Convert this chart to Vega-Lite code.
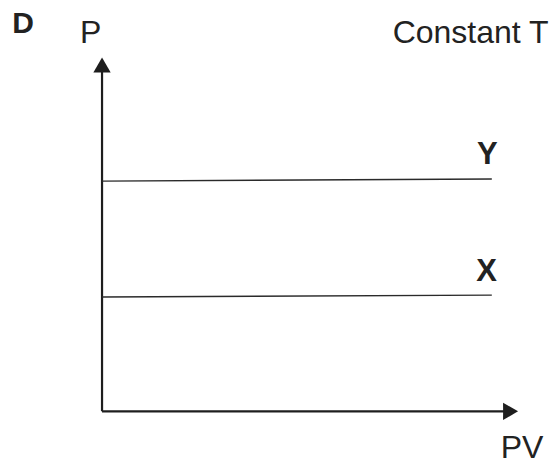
{
  "$schema": "https://vega.github.io/schema/vega-lite/v6.json",
  "width": 551,
  "height": 459,
  "autosize": {"type": "fit", "contains": "padding"},
  "padding": 0,
  "background": "white",
  "config": {"view": {"stroke": null}},
  "datasets": {
    "axes": [
      {"id": "yaxis", "x": 0, "y": 0},
      {"id": "yaxis", "x": 0, "y": 97},
      {"id": "xaxis", "x": 0, "y": 0},
      {"id": "xaxis", "x": 99, "y": 0}
    ],
    "curves": [
      {"id": "Y", "x": 0, "y": 65.2},
      {"id": "Y", "x": 95.5, "y": 65.8},
      {"id": "X", "x": 0, "y": 32.4},
      {"id": "X", "x": 95.5, "y": 32.9}
    ],
    "arrows": [
      {"id": "up", "x": 0, "y": 98.1},
      {"id": "right", "x": 100.1, "y": 0}
    ],
    "labels": [
      {"label": "D", "x": -22.0, "y": 107.1},
      {"label": "P", "x": -2.8, "y": 104.3},
      {"label": "Constant T", "x": 71.2, "y": 104.3},
      {"label": "Y", "x": 94.4, "y": 70.0},
      {"label": "X", "x": 94.2, "y": 36.9},
      {"label": "PV", "x": 102.9, "y": -13.2}
    ]
  },
  "layer": [
    {
      "data": {"name": "axes"},
      "mark": {"type": "line", "color": "#1e1e1e", "strokeWidth": 2.2, "clip": true},
      "encoding": {
        "x": {"field": "x", "type": "quantitative", "scale": {"domain": [-25, 110], "nice": false, "zero": false}, "axis": null},
        "y": {"field": "y", "type": "quantitative", "scale": {"domain": [-13.5, 116.5], "nice": false, "zero": false}, "axis": null},
        "detail": {"field": "id"}
      }
    },
    {
      "data": {"name": "curves"},
      "mark": {"type": "line", "color": "#2a2a2a", "strokeWidth": 1.4, "clip": true},
      "encoding": {
        "x": {"field": "x", "type": "quantitative"},
        "y": {"field": "y", "type": "quantitative"},
        "detail": {"field": "id"}
      }
    },
    {
      "data": {"name": "arrows"},
      "transform": [{"filter": "datum.id === 'up'"}],
      "mark": {"type": "point", "shape": "triangle-up", "filled": true, "color": "#1e1e1e", "size": 300, "opacity": 1, "clip": true},
      "encoding": {
        "x": {"field": "x", "type": "quantitative"},
        "y": {"field": "y", "type": "quantitative"}
      }
    },
    {
      "data": {"name": "arrows"},
      "transform": [{"filter": "datum.id === 'right'"}],
      "mark": {"type": "point", "shape": "triangle-right", "filled": true, "color": "#1e1e1e", "size": 300, "opacity": 1, "clip": true},
      "encoding": {
        "x": {"field": "x", "type": "quantitative"},
        "y": {"field": "y", "type": "quantitative"}
      }
    },
    {
      "data": {"name": "labels"},
      "transform": [{"filter": "datum.label === 'P' || datum.label === 'PV'"}],
      "mark": {"type": "text", "font": "Liberation Sans", "fontSize": 32, "color": "#222", "align": "center", "baseline": "alphabetic", "clip": true},
      "encoding": {
        "x": {"field": "x", "type": "quantitative"},
        "y": {"field": "y", "type": "quantitative"},
        "text": {"field": "label"}
      }
    },
    {
      "data": {"name": "labels"},
      "transform": [{"filter": "datum.label === 'Constant T'"}],
      "mark": {"type": "text", "font": "Liberation Sans", "fontSize": 32, "color": "#222", "align": "left", "baseline": "alphabetic", "clip": true},
      "encoding": {
        "x": {"field": "x", "type": "quantitative"},
        "y": {"field": "y", "type": "quantitative"},
        "text": {"field": "label"}
      }
    },
    {
      "data": {"name": "labels"},
      "transform": [{"filter": "datum.label === 'X' || datum.label === 'Y'"}],
      "mark": {"type": "text", "font": "Liberation Sans", "fontSize": 31, "fontWeight": "bold", "color": "#222", "align": "center", "baseline": "alphabetic", "clip": true},
      "encoding": {
        "x": {"field": "x", "type": "quantitative"},
        "y": {"field": "y", "type": "quantitative"},
        "text": {"field": "label"}
      }
    },
    {
      "data": {"name": "labels"},
      "transform": [{"filter": "datum.label === 'D'"}],
      "mark": {"type": "text", "font": "Liberation Sans", "fontSize": 30, "fontWeight": "bold", "color": "#222", "align": "left", "baseline": "alphabetic", "clip": true},
      "encoding": {
        "x": {"field": "x", "type": "quantitative"},
        "y": {"field": "y", "type": "quantitative"},
        "text": {"field": "label"}
      }
    }
  ]
}
